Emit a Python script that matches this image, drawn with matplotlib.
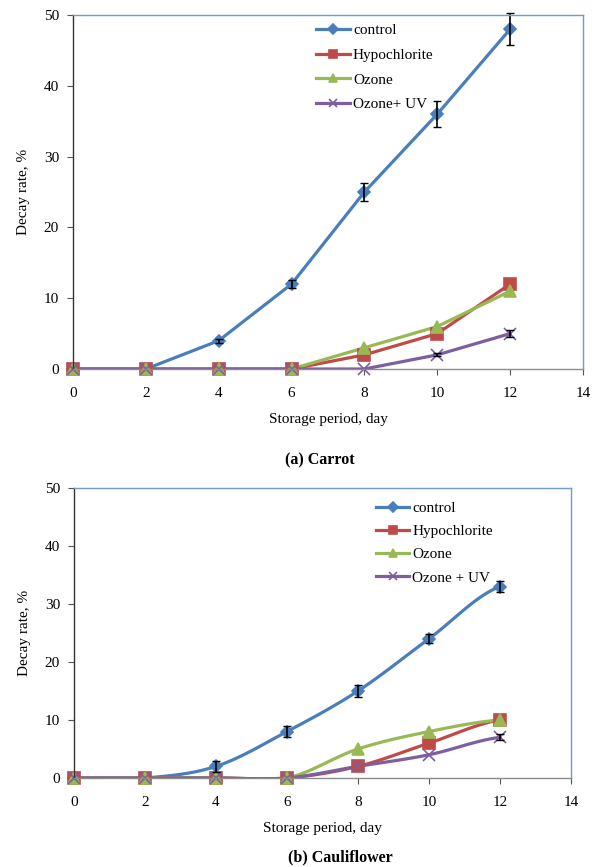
import numpy as np
import matplotlib.pyplot as plt

plt.rcParams['font.family'] = ['Liberation Serif', 'DejaVu Serif']

hari = [0, 2, 4, 6, 8, 10, 12]

# (a) Carrot
wortel_control = [0, 0, 4, 12, 25, 36, 48]
wortel_control_err = [0, 0, 0.3, 0.5, 1.3, 1.8, 2.3]
wortel_hypo = [0, 0, 0, 0, 2, 5, 12]
wortel_ozone = [0, 0, 0, 0, 3, 6, 11]
wortel_ozone_uv = [0, 0, 0, 0, 0, 2, 5]
wortel_ozone_uv_err = [0, 0, 0, 0, 0, 0.2, 0.5]

# (b) Cauliflower
kembang_control = [0, 0, 2, 8, 15, 24, 33]
kembang_control_err = [0, 0, 1, 1, 1, 0.8, 1]
kembang_hypo = [0, 0, 0, 0, 2, 6, 10]
kembang_ozone = [0, 0, 0, 0, 5, 8, 10]
kembang_ozone_uv = [0, 0, 0, 0, 2, 4, 7]
kembang_ozone_uv_err = [0, 0, 0, 0, 0, 0, 0.5]

warna = {'control': '#4A7EBB', 'hypo': '#BE4B48', 'ozone': '#98B954', 'uv': '#7D5FA0'}


# garis halus ala Excel (Catmull-Rom) untuk menggambar lintasan antar titik data
def halus(x, y, n=20):
    x = np.asarray(x, float)
    y = np.asarray(y, float)
    px = np.concatenate([[2 * x[0] - x[1]], x, [2 * x[-1] - x[-2]]])
    py = np.concatenate([[y[0]], y, [y[-1]]])
    xs, ys = [], []
    t = np.linspace(0, 1, n)
    for i in range(1, len(px) - 2):
        for arr, out in ((px, xs), (py, ys)):
            p0, p1, p2, p3 = arr[i - 1], arr[i], arr[i + 1], arr[i + 2]
            c1 = p1 + (p2 - p0) / 6
            c2 = p2 - (p3 - p1) / 6
            out.extend((1 - t) ** 3 * p1 + 3 * (1 - t) ** 2 * t * c1 + 3 * (1 - t) * t ** 2 * c2 + t ** 3 * p2)
    return np.array(xs), np.array(ys)


def gambar(ax, seri, smooth):
    for nama, y, key, mk, ms in seri:
        if smooth:
            xs, ys = halus(hari, y)
        else:
            xs, ys = hari, y
        ax.plot(xs, ys, '-', color=warna[key], lw=2.3, zorder=3)
        ax.plot(hari, y, linestyle='none', marker=mk, color=warna[key], ms=ms,
                mew=1.2, zorder=4, clip_on=False)
        ax.plot([], [], '-', marker=mk, color=warna[key], lw=2.3, ms=ms * 0.8,
                mew=1.2, label=nama)
    ax.set_xlim(0, 14)
    ax.set_ylim(0, 50)
    ax.set_xticks(range(0, 15, 2))
    ax.set_yticks(range(0, 51, 10))
    ax.tick_params(direction='out', length=4, labelsize=11, color='#555555')
    ax.tick_params(axis='x', pad=9)
    ax.tick_params(axis='y', pad=6)
    ax.spines['left'].set_color('#333333')
    ax.spines['bottom'].set_color('#8C8C8C')
    ax.spines['top'].set_color('#6F9BD1')
    ax.spines['right'].set_color('#6F9BD1')
    for s in ax.spines.values():
        s.set_linewidth(1.0)
        s.set_zorder(5)
    ax.set_xlabel('Storage period, day', fontsize=11, labelpad=9)
    ax.set_ylabel('Decay rate, %', fontsize=11, labelpad=10)


fig = plt.figure(figsize=(5.92, 8.67), dpi=100)

ax1 = fig.add_axes([0.1233, 0.5744, 0.8615, 0.4083])
seri1 = [('control', wortel_control, 'control', 'D', 6),
         ('Hypochlorite', wortel_hypo, 'hypo', 's', 8),
         ('Ozone', wortel_ozone, 'ozone', '^', 8),
         ('Ozone+ UV', wortel_ozone_uv, 'uv', 'x', 8)]
gambar(ax1, seri1, False)
ax1.errorbar(hari[2:], wortel_control[2:], yerr=wortel_control_err[2:], fmt='none',
             ecolor='black', elinewidth=1.2, capsize=3, zorder=5, clip_on=False)
ax1.errorbar(hari[5:], wortel_ozone_uv[5:], yerr=wortel_ozone_uv_err[5:], fmt='none',
             ecolor='black', elinewidth=1.2, capsize=3, zorder=5)
ax1.legend(loc='upper left', bbox_to_anchor=(0.465, 0.993), frameon=False, fontsize=11,
           handlelength=2.2, handletextpad=0.2, labelspacing=0.72, borderaxespad=0)
fig.text(0.54, 1 - 460 / 867, '(a) Carrot', ha='center', va='center',
         fontsize=11.5, fontweight='bold')

ax2 = fig.add_axes([0.125, 0.1027, 0.8395, 0.3345])
seri2 = [('control', kembang_control, 'control', 'D', 6),
         ('Hypochlorite', kembang_hypo, 'hypo', 's', 8),
         ('Ozone', kembang_ozone, 'ozone', '^', 8),
         ('Ozone + UV', kembang_ozone_uv, 'uv', 'x', 8)]
gambar(ax2, seri2, True)
ax2.errorbar(hari[2:], kembang_control[2:], yerr=kembang_control_err[2:], fmt='none',
             ecolor='black', elinewidth=1.2, capsize=3, zorder=5)
ax2.errorbar(hari[6:], kembang_ozone_uv[6:], yerr=kembang_ozone_uv_err[6:], fmt='none',
             ecolor='black', elinewidth=1.2, capsize=3, zorder=5)
ax2.legend(loc='upper left', bbox_to_anchor=(0.595, 0.975), frameon=False, fontsize=11,
           handlelength=2.2, handletextpad=0.2, labelspacing=0.62, borderaxespad=0)
fig.text(0.575, 1 - 857 / 867, '(b) Cauliflower', ha='center', va='center',
         fontsize=11.5, fontweight='bold')

fig.savefig('out.png', dpi=100)
